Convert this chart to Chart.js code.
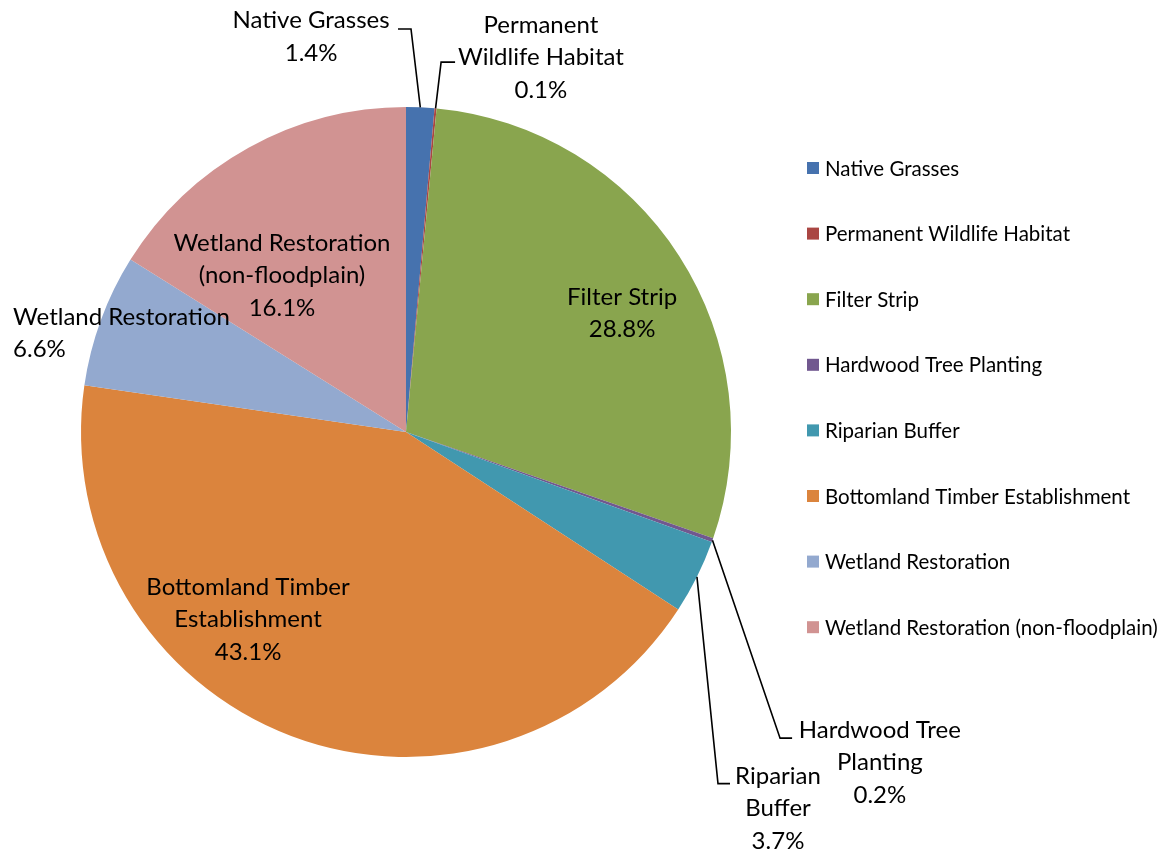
<!DOCTYPE html>
<html>
<head>
<meta charset="utf-8">
<script src="https://cdn.jsdelivr.net/npm/chart.js@4.4.0/dist/chart.umd.min.js"></script>
<style>
  html, body { margin: 0; padding: 0; background: #fff; }
  #wrap { width: 1171px; height: 854px; position: relative; }
</style>
</head>
<body>
<div id="wrap"><canvas id="c" width="1171" height="854"></canvas></div>
<script>
const categories = [
  "Native Grasses",
  "Permanent Wildlife Habitat",
  "Filter Strip",
  "Hardwood Tree Planting",
  "Riparian Buffer",
  "Bottomland Timber Establishment",
  "Wetland Restoration",
  "Wetland Restoration (non-floodplain)"
];
const shares = [1.4, 0.1, 28.8, 0.2, 3.7, 43.1, 6.6, 16.1];
const labelLines = [
  ["Native Grasses"],
  ["Permanent", "Wildlife Habitat"],
  ["Filter Strip"],
  ["Hardwood Tree", "Planting"],
  ["Riparian", "Buffer"],
  ["Bottomland Timber", "Establishment"],
  ["Wetland Restoration"],
  ["Wetland Restoration", "(non-floodplain)"]
];
const colors = ["#4672AE", "#AA4643", "#89A54E", "#71588F", "#4198AF", "#DB843D", "#93A9CF", "#D19392"];

// label layout, in units of radius relative to pie centre
const labelLayout = [
  { t: [-0.292, -1.266], align: "center", leader: [[0.0154, -1.240], [-0.0246, -1.240]] },
  { t: [0.415, -1.252], align: "center", leader: [[0.108, -1.138], [0.151, -1.138]] },
  { t: [0.665, -0.415], align: "center" },
  { t: [1.458, 0.917], align: "center", leader: [[1.151, 0.942], [1.188, 0.942]] },
  { t: [1.1446, 1.0585], align: "center", leader: [[0.960, 1.082], [0.997, 1.082]] },
  { t: [-0.486, 0.477], align: "center" },
  { t: [-1.209, -0.354], align: "left" },
  { t: [-0.3815, -0.5815], align: "center" }
];

const FONT = "Lato, 'Open Sans', sans-serif";

const labelPlugin = {
  id: "sliceLabels",
  afterDraw(chart) {
    const ctx = chart.ctx;
    const meta = chart.getDatasetMeta(0);
    ctx.save();
    meta.data.forEach((arc, i) => {
      const L = labelLayout[i];
      const cx = arc.x, cy = arc.y, R = arc.outerRadius;
      if (L.leader) {
        const mid = (arc.startAngle + arc.endAngle) / 2;
        ctx.beginPath();
        ctx.strokeStyle = "#000";
        ctx.lineWidth = 1.6;
        ctx.moveTo(cx + Math.cos(mid) * R, cy + Math.sin(mid) * R);
        L.leader.forEach(p => ctx.lineTo(cx + p[0] * R, cy + p[1] * R));
        ctx.stroke();
      }
      const lines = labelLines[i].concat([shares[i].toFixed(1) + "%"]);
      ctx.fillStyle = "#000";
      ctx.font = "24px " + FONT;
      ctx.textAlign = L.align;
      ctx.textBaseline = "middle";
      const x = cx + L.t[0] * R;
      let y = cy + L.t[1] * R;
      lines.forEach((s, k) => ctx.fillText(s, x, y + k * 32.5));
    });
    ctx.restore();
  }
};

const legendPlugin = {
  id: "sideLegend",
  afterDraw(chart) {
    const ctx = chart.ctx;
    ctx.save();
    ctx.font = "20.5px " + FONT;
    ctx.textBaseline = "middle";
    ctx.textAlign = "left";
    const x0 = 807, y0 = 168, step = 65.6;
    categories.forEach((c, i) => {
      const y = y0 + i * step;
      ctx.fillStyle = colors[i];
      ctx.fillRect(x0, y - 6, 12, 12);
      ctx.fillStyle = "#000";
      ctx.fillText(c, x0 + 18, y + 1);
    });
    ctx.restore();
  }
};

new Chart(document.getElementById("c"), {
  type: "pie",
  data: {
    labels: categories,
    datasets: [{
      data: shares,
      backgroundColor: colors,
      borderWidth: 0
    }]
  },
  options: {
    responsive: false,
    animation: false,
    layout: { padding: { left: 81, right: 440, top: 107, bottom: 97 } },
    plugins: {
      legend: { display: false },
      tooltip: { enabled: false }
    }
  },
  plugins: [labelPlugin, legendPlugin]
});
</script>
</body>
</html>
